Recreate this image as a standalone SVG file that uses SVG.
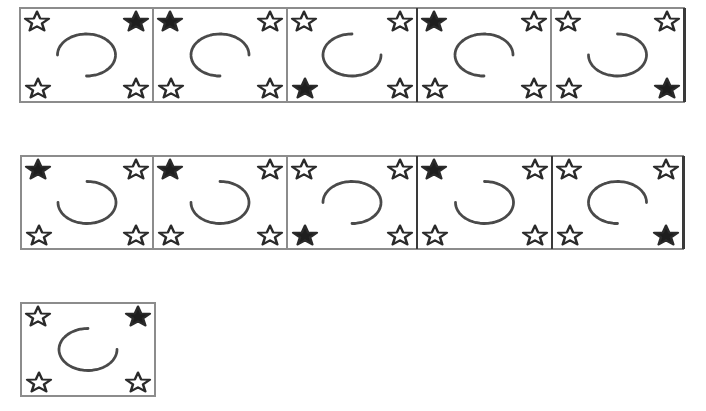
<svg xmlns="http://www.w3.org/2000/svg" xmlns:xlink="http://www.w3.org/1999/xlink" width="706" height="411" viewBox="0 0 706 411">
<style>
.frame{fill:#fff;stroke:#8c8c8c;stroke-width:2}
.edge{stroke:#3a3a3a;stroke-width:3;fill:none}
.o{fill:#fff;stroke:#2a2a2a;stroke-width:2;stroke-linejoin:round}
.f{fill:#1e1e1e;stroke:#2a2a2a;stroke-width:2;stroke-linejoin:round}
.arc{fill:none;stroke:#4a4a4a;stroke-width:2.8;stroke-linecap:round;stroke-dasharray:3 0.8}
</style>
<defs>
<path id="star" d="M0,-10 L2.47,-3.4 L9.51,-3.09 L3.99,1.3 L5.88,8.09 L0,4.2 L-5.88,8.09 L-3.99,1.3 L-9.51,-3.09 L-2.47,-3.4 Z"/>
</defs>
<rect width="706" height="411" fill="#fff"/>

<g id="p1">
<rect class="frame" x="20" y="8" width="133" height="94"/>
<use href="#star" class="o" transform="translate(37,22) scale(1.25,1.05)"/>
<use href="#star" class="f" transform="translate(136,22) scale(1.25,1.05)"/>
<use href="#star" class="o" transform="translate(38,89) scale(1.25,1.05)"/>
<use href="#star" class="o" transform="translate(136,89) scale(1.25,1.05)"/>
<path class="arc" d="M57.5,55 A29,21 0 1 1 86.5,76"/>
</g>
<g id="p2">
<rect class="frame" x="153" y="8" width="134" height="94"/>
<use href="#star" class="f" transform="translate(170,22) scale(1.25,1.05)"/>
<use href="#star" class="o" transform="translate(270,22) scale(1.25,1.05)"/>
<use href="#star" class="o" transform="translate(171,89) scale(1.25,1.05)"/>
<use href="#star" class="o" transform="translate(270,89) scale(1.25,1.05)"/>
<path class="arc" d="M249,55 A29,21 0 1 0 220,76"/>
</g>
<g id="p3">
<rect class="frame" x="287" y="8" width="130" height="94"/>
<use href="#star" class="o" transform="translate(304,22) scale(1.25,1.05)"/>
<use href="#star" class="o" transform="translate(400,22) scale(1.25,1.05)"/>
<use href="#star" class="f" transform="translate(305,89) scale(1.25,1.05)"/>
<use href="#star" class="o" transform="translate(400,89) scale(1.25,1.05)"/>
<path class="arc" d="M352,34 A29,21 0 1 0 381,55"/>
</g>
<g id="p4">
<rect class="frame" x="417" y="8" width="134" height="94"/>
<use href="#star" class="f" transform="translate(434,22) scale(1.25,1.05)"/>
<use href="#star" class="o" transform="translate(534,22) scale(1.25,1.05)"/>
<use href="#star" class="o" transform="translate(435,89) scale(1.25,1.05)"/>
<use href="#star" class="o" transform="translate(534,89) scale(1.25,1.05)"/>
<path class="arc" d="M513,55 A29,21 0 1 0 484,76"/>
</g>
<g id="p5">
<rect class="frame" x="551" y="8" width="133" height="94"/>
<use href="#star" class="o" transform="translate(568,22) scale(1.25,1.05)"/>
<use href="#star" class="o" transform="translate(667,22) scale(1.25,1.05)"/>
<use href="#star" class="o" transform="translate(569,89) scale(1.25,1.05)"/>
<use href="#star" class="f" transform="translate(667,89) scale(1.25,1.05)"/>
<path class="arc" d="M617.5,34 A29,21 0 1 1 588.5,55"/>
</g>

<g id="q1">
<rect class="frame" x="21" y="156" width="132" height="93"/>
<use href="#star" class="f" transform="translate(38,170) scale(1.25,1.05)"/>
<use href="#star" class="o" transform="translate(136,170) scale(1.25,1.05)"/>
<use href="#star" class="o" transform="translate(39,236) scale(1.25,1.05)"/>
<use href="#star" class="o" transform="translate(136,236) scale(1.25,1.05)"/>
<path class="arc" d="M87,181.5 A29,21 0 1 1 58,202.5"/>
</g>
<g id="q2">
<rect class="frame" x="153" y="156" width="134" height="93"/>
<use href="#star" class="f" transform="translate(170,170) scale(1.25,1.05)"/>
<use href="#star" class="o" transform="translate(270,170) scale(1.25,1.05)"/>
<use href="#star" class="o" transform="translate(171,236) scale(1.25,1.05)"/>
<use href="#star" class="o" transform="translate(270,236) scale(1.25,1.05)"/>
<path class="arc" d="M220,181.5 A29,21 0 1 1 191,202.5"/>
</g>
<g id="q3">
<rect class="frame" x="287" y="156" width="130" height="93"/>
<use href="#star" class="o" transform="translate(304,170) scale(1.25,1.05)"/>
<use href="#star" class="o" transform="translate(400,170) scale(1.25,1.05)"/>
<use href="#star" class="f" transform="translate(305,236) scale(1.25,1.05)"/>
<use href="#star" class="o" transform="translate(400,236) scale(1.25,1.05)"/>
<path class="arc" d="M323,202.5 A29,21 0 1 1 352,223.5"/>
</g>
<g id="q4">
<rect class="frame" x="417" y="156" width="135" height="93"/>
<use href="#star" class="f" transform="translate(434,170) scale(1.25,1.05)"/>
<use href="#star" class="o" transform="translate(535,170) scale(1.25,1.05)"/>
<use href="#star" class="o" transform="translate(435,236) scale(1.25,1.05)"/>
<use href="#star" class="o" transform="translate(535,236) scale(1.25,1.05)"/>
<path class="arc" d="M484.5,181.5 A29,21 0 1 1 455.5,202.5"/>
</g>
<g id="q5">
<rect class="frame" x="552" y="156" width="131" height="93"/>
<use href="#star" class="o" transform="translate(569,170) scale(1.25,1.05)"/>
<use href="#star" class="o" transform="translate(666,170) scale(1.25,1.05)"/>
<use href="#star" class="o" transform="translate(570,236) scale(1.25,1.05)"/>
<use href="#star" class="f" transform="translate(666,236) scale(1.25,1.05)"/>
<path class="arc" d="M646.5,202.5 A29,21 0 1 0 617.5,223.5"/>
</g>

<g id="r1">
<rect class="frame" x="21" y="303" width="134" height="93"/>
<use href="#star" class="o" transform="translate(38,317) scale(1.25,1.05)"/>
<use href="#star" class="f" transform="translate(138,317) scale(1.25,1.05)"/>
<use href="#star" class="o" transform="translate(39,383) scale(1.25,1.05)"/>
<use href="#star" class="o" transform="translate(138,383) scale(1.25,1.05)"/>
<path class="arc" d="M88,328.5 A29,21 0 1 0 117,349.5"/>
</g>

<g id="edges">
<line class="edge" x1="684.5" y1="8" x2="684.5" y2="102"/>
<line class="edge" x1="417" y1="8" x2="417" y2="102" style="stroke-width:2"/>
<line class="edge" x1="683.5" y1="156" x2="683.5" y2="249"/>
<line class="edge" x1="417" y1="156" x2="417" y2="249" style="stroke-width:2"/>
<line class="edge" x1="552" y1="156" x2="552" y2="249" style="stroke-width:2"/>
</g>
</svg>
